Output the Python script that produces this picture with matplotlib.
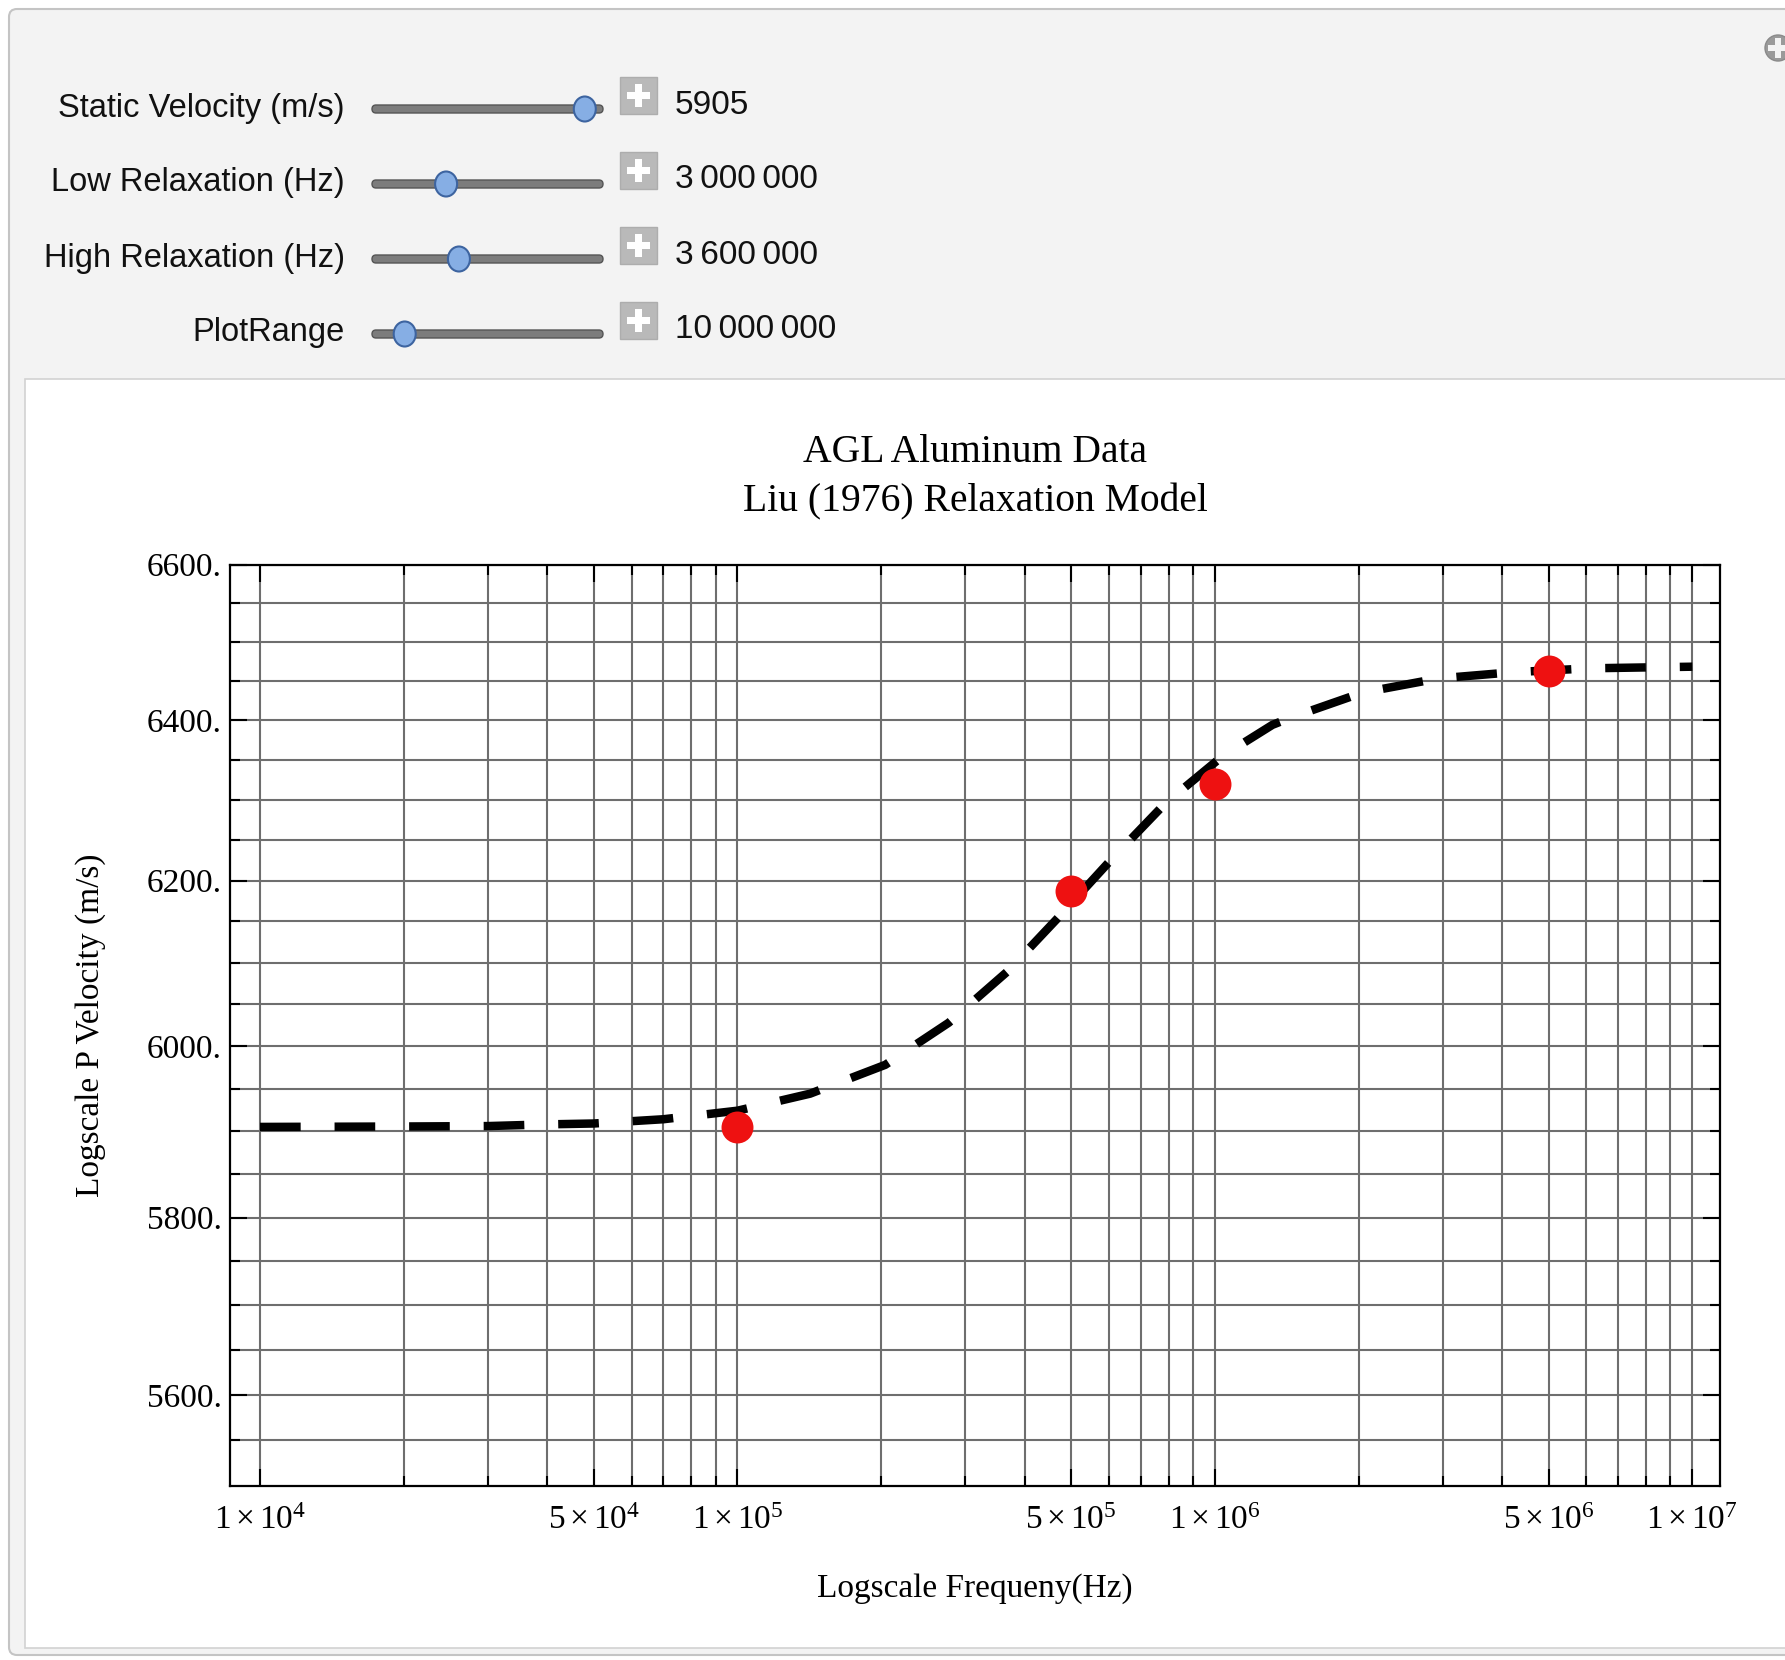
import matplotlib
matplotlib.use("Agg")
import matplotlib.pyplot as plt
from matplotlib.patches import Rectangle, FancyBboxPatch, Ellipse, Circle
from matplotlib.ticker import FixedLocator, FixedFormatter, NullFormatter

# ---------------- data ----------------
model_freq = [1e4, 2e4, 3e4, 4e4, 5e4, 7e4, 1e5, 1.42e5, 2.04e5, 2.77e5, 3.67e5,
              4.65e5, 6.05e5, 7.86e5, 1.04e6, 1.32e6, 1.44e6, 2.04e6, 2.94e6,
              4.22e6, 6.17e6, 1e7]
model_vel = [5905, 5905.5, 5906, 5908, 5909, 5914, 5924, 5944, 5978, 6028, 6089,
             6152, 6225, 6295, 6355, 6394, 6403, 6435, 6453, 6461, 6466, 6468]
data_freq = [1e5, 5e5, 1e6, 5e6]
data_vel = [5905, 6187, 6320, 6462]

x_major = [1e4, 5e4, 1e5, 5e5, 1e6, 5e6, 1e7]
x_major_labels = [r"$1\times10^{4}$", r"$5\times10^{4}$", r"$1\times10^{5}$",
                  r"$5\times10^{5}$", r"$1\times10^{6}$", r"$5\times10^{6}$",
                  r"$1\times10^{7}$"]
x_minor = [m * 10 ** e for e in (4, 5, 6) for m in (2, 3, 4, 6, 7, 8, 9)]
y_major = [5600, 5800, 6000, 6200, 6400, 6600]
y_major_labels = ["5600.", "5800.", "6000.", "6200.", "6400.", "6600."]
y_minor = [5550, 5650, 5700, 5750, 5850, 5900, 5950, 6050, 6100, 6150, 6250,
           6300, 6350, 6450, 6500, 6550]

control_labels = ["Static Velocity (m/s)", "Low Relaxation (Hz)",
                  "High Relaxation (Hz)", "PlotRange"]
control_values = ["5905", "3\u2009000\u2009000", "3\u2009600\u2009000",
                  "10\u2009000\u2009000"]
control_fraction = [0.97, 0.30, 0.362, 0.10]   # slider positions

title_lines = ["AGL Aluminum Data", "Liu (1976) Relaxation Model"]
x_label = "Logscale Frequeny(Hz)"
y_label = "Logscale P Velocity (m/s)"

# ---------------- figure ----------------
W, H = 1785, 1660
plt.rcParams["mathtext.fontset"] = "custom"
plt.rcParams["mathtext.rm"] = "Liberation Serif"
plt.rcParams["mathtext.it"] = "Liberation Serif:italic"
plt.rcParams["mathtext.bf"] = "Liberation Serif:bold"
plt.rcParams["font.family"] = ["Liberation Serif", "DejaVu Serif"]

fig = plt.figure(figsize=(W / 100, H / 100), dpi=100, facecolor="white")

# background / UI layer in pixel coordinates
bg = fig.add_axes([0, 0, 1, 1], zorder=0)
bg.set_xlim(0, W)
bg.set_ylim(H, 0)
bg.axis("off")

bg.add_patch(FancyBboxPatch((9, 9), W + 30, H - 14,
                            boxstyle="round,pad=0,rounding_size=8",
                            facecolor="#f3f3f3", edgecolor="#c4c4c4", lw=1.5))
bg.add_patch(Rectangle((25, 379), W, 1648 - 379, facecolor="white",
                       edgecolor="#d2d2d2", lw=1.2))

ui_font = ["Liberation Sans", "DejaVu Sans"]
row_y = [108, 183, 258, 333]
track_x0, track_x1 = 372, 603
for lab, val, frac, ry in zip(control_labels, control_values, control_fraction, row_y):
    bg.text(345, ry, lab, ha="right", va="center", fontsize=23.5,
            family=ui_font, color="#111111")
    ty = ry + 1
    bg.add_patch(FancyBboxPatch((track_x0, ty - 4), track_x1 - track_x0, 8,
                                boxstyle="round,pad=0,rounding_size=4",
                                facecolor="#7c7c7c", edgecolor="#555555", lw=1))
    kx = track_x0 + 12 + frac * (track_x1 - track_x0 - 24)
    bg.add_patch(Ellipse((kx, ty), 22, 25, facecolor="#86aee4",
                         edgecolor="#3d64a0", lw=1.5, zorder=3))
    bx, by = 620, ry - 31
    bg.add_patch(Rectangle((bx, by), 37, 37, facecolor="#b9b9b9",
                           edgecolor="#adadad", lw=1))
    bg.add_patch(Rectangle((bx + 15, by + 7), 7, 23, facecolor="white", lw=0))
    bg.add_patch(Rectangle((bx + 7, by + 15), 23, 7, facecolor="white", lw=0))
    bg.text(675, ry - 3, val, ha="left", va="center", fontsize=24,
            family=ui_font, color="#111111")

# top-right icon
bg.add_patch(Circle((1778, 48), 13, facecolor="#9a9a9a", edgecolor="#8a8a8a"))
bg.add_patch(Rectangle((1775, 38), 6, 20, facecolor="#f3f3f3", lw=0))
bg.add_patch(Rectangle((1768, 45), 20, 6, facecolor="#f3f3f3", lw=0))

# ---------------- main plot ----------------
left, right, top, bottom = 230.4, 1720.0, 564.6, 1486.0
ax = fig.add_axes([left / W, 1 - bottom / H, (right - left) / W, (bottom - top) / H],
                  zorder=2)
ax.set_facecolor("white")
ax.set_xscale("log")
ax.set_yscale("log")
ax.set_xlim(10 ** 3.938, 10 ** 7.058)
ax.set_ylim(5500, 6600)

ax.xaxis.set_major_locator(FixedLocator(x_major))
ax.xaxis.set_major_formatter(FixedFormatter(x_major_labels))
ax.xaxis.set_minor_locator(FixedLocator(x_minor))
ax.xaxis.set_minor_formatter(NullFormatter())
ax.yaxis.set_major_locator(FixedLocator(y_major))
ax.yaxis.set_major_formatter(FixedFormatter(y_major_labels))
ax.yaxis.set_minor_locator(FixedLocator(y_minor))
ax.yaxis.set_minor_formatter(NullFormatter())

ax.grid(which="both", color="#6e6e6e", lw=1.5)
ax.set_axisbelow(True)
ax.tick_params(which="both", direction="in", top=True, right=True,
               color="black", width=1.5, labelsize=24)
ax.tick_params(which="major", length=12)
ax.tick_params(which="minor", length=7)
ax.tick_params(axis="x", pad=14)
ax.tick_params(axis="y", pad=6)
for sp in ax.spines.values():
    sp.set_linewidth(1.6)
    sp.set_color("black")

ax.plot(model_freq, model_vel, color="black", lw=6.1, dashes=(4.8, 4.0),
        solid_capstyle="butt", dash_capstyle="butt", zorder=3)
ax.plot(data_freq, data_vel, "o", color="#ee1111", markersize=23,
        markeredgewidth=0, zorder=4)

cx = (left + right) / 2 / W
fig.text(cx, 1 - 452 / H, title_lines[0], ha="center", va="center", fontsize=28.5)
fig.text(cx, 1 - 502 / H, title_lines[1], ha="center", va="center", fontsize=28.5)
fig.text(cx, 1 - 1589 / H, x_label, ha="center", va="center", fontsize=24)
fig.text(91 / W, 1 - 1025 / H, y_label, ha="center", va="center",
         rotation=90, fontsize=24)

fig.savefig("out.png", dpi=100, facecolor="white")
